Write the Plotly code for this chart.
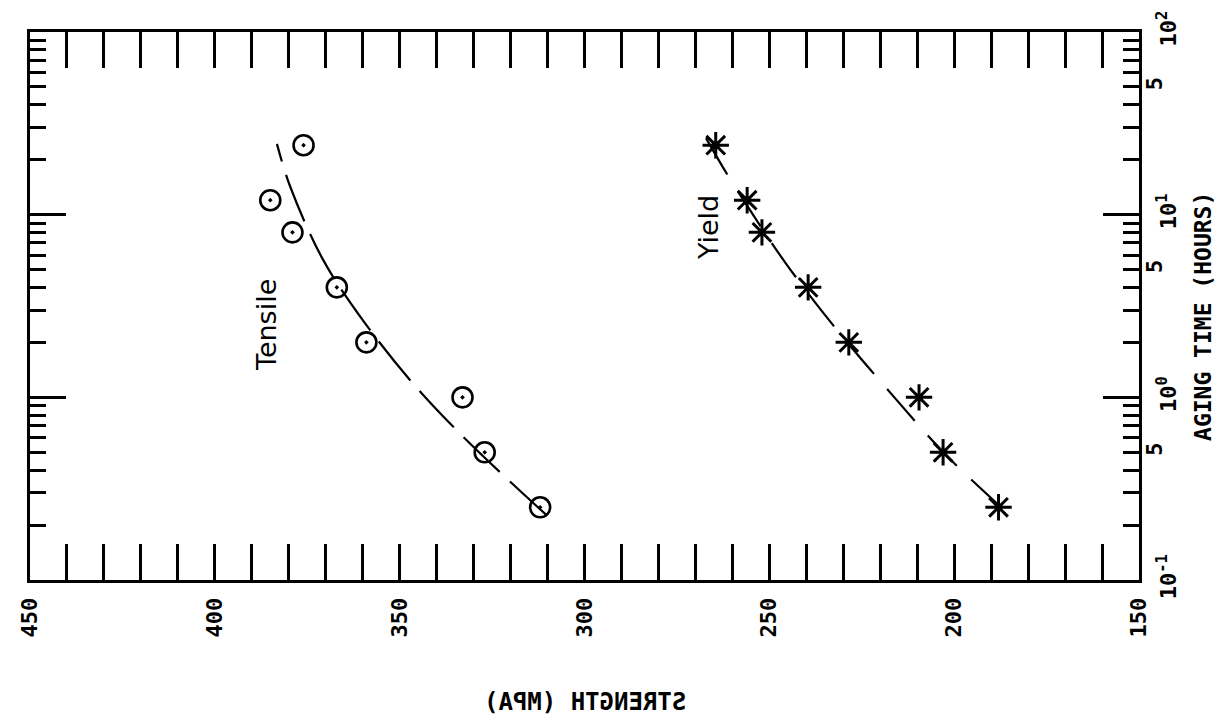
import plotly.graph_objects as go

# Aging times (hours) and measured strengths (MPa)
aging_time_h = [0.25, 0.5, 1, 2, 4, 8, 12, 24]
tensile_mpa = [312, 327, 333, 359, 367, 379, 385, 376]
yield_mpa = [188, 203, 209.5, 228.5, 239.5, 252, 256, 264.5]

# Hand-drawn trend curves through each series
tensile_fit_time = [0.226, 0.58, 1.21, 2.88, 5.8, 14.4, 24.4]
tensile_fit_mpa = [310.2, 331.8, 346.7, 361.3, 371.0, 379.7, 383.2]
yield_fit_time = [0.247, 0.49, 0.99, 2.38, 5.4, 11.6, 18.1, 30.6]
yield_fit_mpa = [187.0, 202.5, 216.0, 232.0, 245.5, 256.5, 262.5, 269.0]

# Axis ticks
strength_ticks = [150, 200, 250, 300, 350, 400, 450]
strength_minor = list(range(150, 451, 10))
time_major = [0.1, 1, 10, 100]
time_major_text = ["10<sup>-1</sup>", "10<sup>0</sup>", "10<sup>1</sup>", "10<sup>2</sup>"]
time_half = [0.5, 5, 50]
time_half_text = ["5", "5", "5"]
time_minor = [m * d for d in (0.1, 1, 10) for m in range(2, 10)]

INK = "black"
MONO = dict(family="DejaVu Sans Mono", size=22, color=INK, weight="bold")
LABEL = dict(family="DejaVu Sans", size=27, color=INK)

fig = go.Figure()

fig.add_trace(go.Scatter(
    x=tensile_fit_mpa, y=tensile_fit_time, mode="lines",
    line=dict(color=INK, width=2.2, dash="50px,14px", shape="spline"),
    showlegend=False, hoverinfo="skip"))
fig.add_trace(go.Scatter(
    x=yield_fit_mpa, y=yield_fit_time, mode="lines",
    line=dict(color=INK, width=2.2, dash="42px,20px", shape="spline"),
    showlegend=False, hoverinfo="skip"))

fig.add_trace(go.Scatter(
    x=tensile_mpa, y=aging_time_h, mode="markers", name="Tensile",
    marker=dict(symbol="circle-open-dot", size=20, color=INK,
                line=dict(color=INK, width=2.6)),
    showlegend=False))
fig.add_trace(go.Scatter(
    x=yield_mpa, y=aging_time_h, mode="markers", name="Yield",
    marker=dict(symbol="asterisk-open", size=22, color=INK,
                line=dict(color=INK, width=3)),
    showlegend=False))

# invisible trace to activate the secondary time axis carrying the "5" labels
fig.add_trace(go.Scatter(
    x=[None], y=[None], yaxis="y2", mode="markers", showlegend=False,
    hoverinfo="skip"))

fig.update_layout(
    width=1222, height=721, autosize=False,
    margin=dict(l=30, r=83, t=32, b=141),
    paper_bgcolor="white", plot_bgcolor="white",
    xaxis=dict(
        range=[450, 150], showgrid=False, zeroline=False,
        showline=True, linecolor=INK, linewidth=3, mirror="allticks",
        ticks="inside", ticklen=36, tickwidth=2.5, tickcolor=INK,
        tickvals=strength_ticks, ticktext=[str(v) for v in strength_ticks],
        tickangle=-90, tickfont=MONO, ticklabelstandoff=6,
        minor=dict(tickvals=strength_minor, ticks="inside", ticklen=18,
                   tickwidth=2.5, tickcolor=INK, showgrid=False),
    ),
    yaxis=dict(
        type="log", range=[-1, 2], side="right", showgrid=False, zeroline=False,
        showline=True, linecolor=INK, linewidth=3, mirror="allticks",
        ticks="inside", ticklen=36, tickwidth=2.5, tickcolor=INK,
        tickvals=time_major, ticktext=time_major_text,
        tickangle=-90, tickfont=MONO, ticklabelstandoff=8,
        minor=dict(tickvals=time_minor, ticks="inside", ticklen=16,
                   tickwidth=2.5, tickcolor=INK, showgrid=False),
    ),
    yaxis2=dict(
        type="log", range=[-1, 2], side="right", overlaying="y", anchor="x",
        showgrid=False, zeroline=False, showline=False,
        ticks="inside", ticklen=16, tickwidth=2.5, tickcolor=INK,
        tickvals=time_half, ticktext=time_half_text,
        tickangle=-90, tickfont=MONO, ticklabelstandoff=0,
    ),
    annotations=[
        dict(text="Tensile", x=0.2128, y=0.4653, xref="paper", yref="paper",
             xanchor="center", yanchor="middle",
             textangle=-90, showarrow=False, font=LABEL),
        dict(text="Yield", x=0.6114, y=0.6423, xref="paper", yref="paper",
             xanchor="center", yanchor="middle",
             textangle=-90, showarrow=False, font=LABEL),
        dict(text="AGING TIME (HOURS)", x=1.0577, y=0.4818,
             xref="paper", yref="paper", xanchor="center", yanchor="middle",
             textangle=-90, showarrow=False,
             font=dict(family="DejaVu Sans Mono", size=23, color=INK,
                       weight="bold")),
        dict(text="STRENGTH (MPA)", x=0.5, y=-0.2226,
             xref="paper", yref="paper", xanchor="center", yanchor="middle",
             showarrow=False,
             font=dict(family="DejaVu Sans Mono", size=24, color=INK,
                       weight="bold")),
    ],
)

# The strength caption is printed mirror-reversed
mirror_js = """
var gd = document.getElementById('{plot_id}');
gd.querySelectorAll('.annotation-text').forEach(function (t) {
  if (t.textContent.indexOf('STRENGTH') === 0) {
    var b = t.getBBox();
    var cx = b.x + b.width / 2;
    var base = t.getAttribute('transform') || '';
    t.setAttribute('transform', base + ' translate(' + (2 * cx) + ',0) scale(-1,1)');
  }
});
"""

fig.write_html("out.html", post_script=mirror_js)
